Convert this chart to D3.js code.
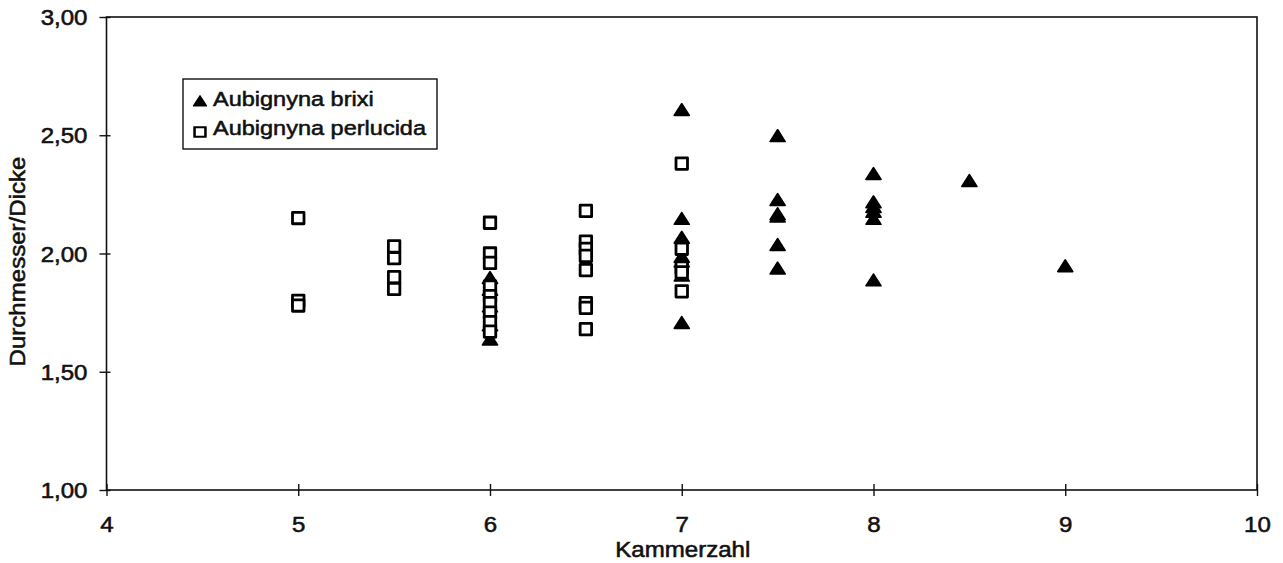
<!DOCTYPE html>
<html>
<head>
<meta charset="utf-8">
<script src="https://cdn.jsdelivr.net/npm/d3@7"></script>
<style>
  body { margin: 0; background: white; }
  text { font-family: "Liberation Sans", Arial, sans-serif; fill: #111; stroke: #111; stroke-width: 0.55px; }
</style>
</head>
<body>
<div id="container"></div>
<script>
let w = 1283;
let h = 563;
let sx = 1.12; // the scan is a bit wider than Arial

// DATA
let brixiX = [6, 6, 6, 6, 6,
  7, 7, 7, 7, 7, 7, 7,
  7.5, 7.5, 7.5, 7.5, 7.5, 7.5,
  8, 8, 8, 8, 8, 8,
  8.5, 9];
let brixiY = [1.89, 1.84, 1.77, 1.69, 1.63,
  2.60, 2.14, 2.06, 1.98, 1.96, 1.90, 1.70,
  2.49, 2.22, 2.16, 2.15, 2.03, 1.93,
  2.33, 2.21, 2.19, 2.17, 2.14, 1.88,
  2.30, 1.94];

let perlucidaX = [5, 5, 5,
  5.5, 5.5, 5.5, 5.5,
  6, 6, 6, 6, 6, 6, 6, 6, 6,
  6.5, 6.5, 6.5, 6.5, 6.5, 6.5, 6.5, 6.5,
  7, 7, 7, 7, 7];
let perlucidaY = [2.15, 1.80, 1.78,
  2.03, 1.98, 1.90, 1.85,
  2.13, 2.00, 1.96, 1.86, 1.82, 1.79, 1.75, 1.71, 1.67,
  2.18, 2.05, 2.02, 1.99, 1.93, 1.79, 1.77, 1.68,
  2.38, 2.02, 1.94, 1.92, 1.84];

let xTicks = [4, 5, 6, 7, 8, 9, 10];
let yTicks = [1.0, 1.5, 2.0, 2.5, 3.0];
let seriesNames = ["Aubignyna brixi", "Aubignyna perlucida"];

let brixi = brixiX.map((d, i) => ({x: d, y: brixiY[i]}));
let perlucida = perlucidaX.map((d, i) => ({x: d, y: perlucidaY[i]}));

// SVG
let viz = d3.select("#container").append("svg")
    .attr("width", w)
    .attr("height", h)
    .style("background-color", "white");

let plotLeft = 106.5, plotRight = 1257, plotTop = 17, plotBottom = 490;

let xScale = d3.scaleLinear().domain([4, 10]).range([plotLeft, plotRight]);
let yScale = d3.scaleLinear().domain([1, 3]).range([plotBottom, plotTop]);

// frame
viz.append("rect")
    .attr("x", plotLeft).attr("y", plotTop)
    .attr("width", plotRight - plotLeft).attr("height", plotBottom - plotTop)
    .attr("fill", "none").attr("stroke", "#111").attr("stroke-width", 1.6);

// axes
let yAxis = viz.append("g")
    .attr("transform", `translate(${plotLeft},0)`)
    .call(d3.axisLeft(yScale).tickValues(yTicks)
      .tickFormat(d => d.toFixed(2).replace(".", ",")));
yAxis.select(".domain").remove();
yAxis.selectAll("line").attr("x1", 4).attr("x2", -7)
    .attr("stroke", "#111").attr("stroke-width", 1.4);
yAxis.selectAll("text")
    .attr("x", -19 / sx)
    .attr("dy", "0.36em")
    .attr("transform", `scale(${sx},1)`)
    .style("font-size", "21.5px")
    .attr("fill", "#111");

let xAxis = viz.append("g")
    .attr("transform", `translate(0,${plotBottom})`)
    .call(d3.axisBottom(xScale).tickValues(xTicks).tickFormat(d3.format("d")));
xAxis.select(".domain").remove();
xAxis.selectAll("line").attr("y1", -6).attr("y2", 6)
    .attr("stroke", "#111").attr("stroke-width", 1.4);
xAxis.selectAll("text")
    .attr("x", 0)
    .attr("y", 27)
    .attr("dy", "0.71em")
    .attr("transform", `scale(${sx},1)`)
    .style("font-size", "21.5px")
    .attr("fill", "#111");

// axis titles
viz.append("text")
    .attr("transform", `translate(${(plotLeft + plotRight) / 2 + 1},557) scale(${sx},1)`)
    .attr("text-anchor", "middle")
    .style("font-size", "21.5px")
    .text("Kammerzahl");

viz.append("text")
    .attr("transform", `translate(25,${(plotTop + plotBottom) / 2 + 8}) rotate(-90) scale(${sx},1)`)
    .attr("text-anchor", "middle")
    .style("font-size", "21.5px")
    .text("Durchmesser/Dicke");

// MARKS
let tri = d3.symbol().type(d3.symbolTriangle).size(80);
let sq = d3.symbol().type(d3.symbolSquare).size(132);

viz.selectAll(".brixi").data(brixi).enter()
  .append("path")
    .attr("class", "brixi")
    .attr("d", tri)
    .attr("transform", d => `translate(${xScale(d.x)},${yScale(d.y)}) scale(1.1,1)`)
    .attr("fill", "#000")
    .attr("stroke", "#000")
    .attr("stroke-width", 1.6)
    .attr("stroke-linejoin", "round");

viz.selectAll(".perlucida").data(perlucida).enter()
  .append("path")
    .attr("class", "perlucida")
    .attr("d", sq)
    .attr("transform", d => `translate(${xScale(d.x)},${yScale(d.y)})`)
    .attr("fill", "white")
    .attr("stroke", "#000")
    .attr("stroke-width", 2.8)
    .attr("stroke-linejoin", "round");

// LEGEND
let legend = viz.append("g");
legend.append("rect")
    .attr("x", 183).attr("y", 79)
    .attr("width", 254).attr("height", 70)
    .attr("fill", "white").attr("stroke", "#111").attr("stroke-width", 1.4);

legend.append("path")
    .attr("d", d3.symbol().type(d3.symbolTriangle).size(60))
    .attr("transform", "translate(200,102.5) scale(1.1,1)")
    .attr("fill", "#000").attr("stroke", "#000").attr("stroke-width", 1.2)
    .attr("stroke-linejoin", "round");
legend.append("path")
    .attr("d", d3.symbol().type(d3.symbolSquare).size(90))
    .attr("transform", "translate(200,132) scale(1.15,1)")
    .attr("fill", "white").attr("stroke", "#000").attr("stroke-width", 2.2);

legend.selectAll(".legtext").data(seriesNames).enter()
  .append("text")
    .attr("class", "legtext")
    .attr("transform", (d, i) => `translate(213,${106 + i * 29}) scale(${sx},1)`)
    .style("font-size", "21px")
    .text(d => d);
</script>
</body>
</html>
